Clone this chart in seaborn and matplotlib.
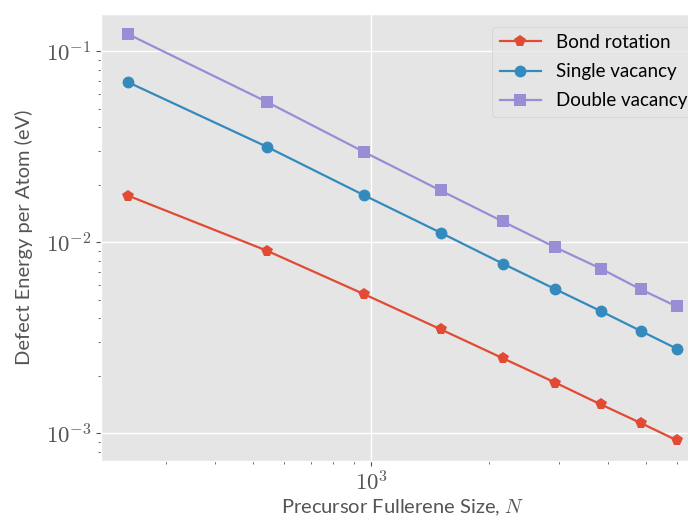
import numpy as np
import pandas as pd
import matplotlib
matplotlib.use("Agg")
import matplotlib.pyplot as plt
import matplotlib.ticker as mticker
import seaborn as sns

# fullerene sizes N and defect energy per atom (eV)
sizes = [240, 540, 960, 1500, 2160, 2940, 3840, 4860, 6000]
bond_rotation = [0.01750, 0.00904, 0.00533, 0.00350, 0.00247, 0.00184, 0.001415, 0.00113, 0.000918]
single_vacancy = [0.0687, 0.03166, 0.01757, 0.01122, 0.00773, 0.00568, 0.00436, 0.00343, 0.00277]
double_vacancy = [0.1227, 0.0544, 0.0296, 0.01866, 0.01285, 0.00941, 0.00728, 0.00566, 0.00461]

series_names = ["Bond rotation", "Single vacancy", "Double vacancy"]
series_vals = [bond_rotation, single_vacancy, double_vacancy]
series_markers = ["p", "o", "s"]
series_colors = ["#E24A33", "#348ABD", "#988ED5"]

plt.style.use("ggplot")
plt.rcParams["font.family"] = ["Lato", "DejaVu Sans"]
plt.rcParams["mathtext.fontset"] = "cm"

fig = plt.figure(figsize=(6.88, 5.21), dpi=100)
ax = fig.add_axes([101 / 688, 60.5 / 521, 603 / 688, 446.5 / 521])

for name, vals, mk, col in zip(series_names, series_vals, series_markers, series_colors):
    df = pd.DataFrame({"N": sizes, "E": vals})
    sns.lineplot(data=df, x="N", y="E", ax=ax, label=name, color=col,
                 marker=mk, markersize=8.5, markeredgewidth=0, linewidth=1.6)

ax.set_xscale("log")
ax.set_yscale("log")

def pow_fmt(v, pos):
    e = int(round(np.log10(v)))
    if abs(v - 10.0 ** e) > 1e-9 * v:
        return ""
    return r"$10^{%d}$" % e

ax.xaxis.set_major_formatter(mticker.FuncFormatter(pow_fmt))
ax.yaxis.set_major_formatter(mticker.FuncFormatter(pow_fmt))
ax.xaxis.set_minor_formatter(mticker.NullFormatter())
ax.yaxis.set_minor_formatter(mticker.NullFormatter())
ax.tick_params(axis="both", which="major", labelsize=16.5, colors="#555555")
ax.tick_params(axis="both", which="minor", colors="#555555")
ax.grid(True, which="major", color="white", linewidth=1.0)
ax.grid(False, which="minor")

ax.set_xlabel(r"Precursor Fullerene Size, $N$", fontsize=14.5, color="#555555", labelpad=2)
ax.set_ylabel("Defect Energy per Atom (eV)", fontsize=14.5, color="#555555", labelpad=9)

leg = ax.legend(loc="upper right", fontsize=13.5, labelspacing=0.65, handlelength=2.2,
                bbox_to_anchor=(1.0, 0.993))
for t in leg.get_texts():
    t.set_color("black")

fig.savefig("out.png", dpi=100)
